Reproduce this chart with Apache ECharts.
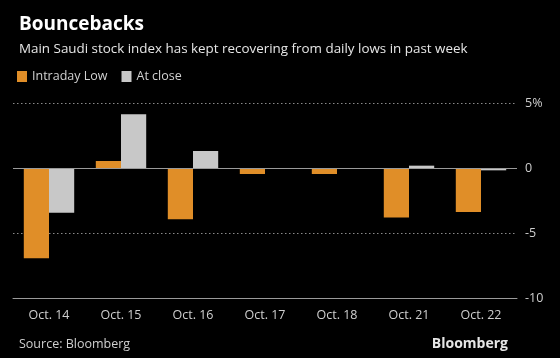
<!DOCTYPE html>
<html><head><meta charset="utf-8">
<script src="https://cdn.jsdelivr.net/npm/echarts@6/dist/echarts.min.js"></script>
<style>html,body{margin:0;padding:0;background:#000;}#c{width:560px;height:358px;}</style>
</head><body><div id="c"></div>
<script>
const categories = ['Oct. 14','Oct. 15','Oct. 16','Oct. 17','Oct. 18','Oct. 21','Oct. 22'];
const intradayLow = [-6.95, 0.54, -3.95, -0.46, -0.46, -3.8, -3.38];
const atClose = [-3.44, 4.13, 1.31, -0.05, -0.05, 0.18, -0.18];
const yTicks = [-10, -5, 0, 5];
const FONT = 'Open Sans';
const chart = echarts.init(document.getElementById('c'));
chart.setOption({
  backgroundColor: '#000',
  animation: false,
  textStyle: {fontFamily: FONT},
  title: [
    {text: 'Bouncebacks', left: 14, top: 10, textStyle: {color: '#fff', fontSize: 19, fontWeight: 'bold', fontFamily: FONT}},
    {text: 'Main Saudi stock index has kept recovering from daily lows in past week', left: 14, top: 38, textStyle: {color: '#e6e6e6', fontSize: 13.4, fontWeight: 'normal', fontFamily: FONT}},
    {text: 'Source: Bloomberg', left: 14, top: 333, textStyle: {color: '#cfcfcf', fontSize: 12.5, fontWeight: 'normal', fontFamily: FONT}},
    {text: 'Bloomberg', right: 47, top: 332, textStyle: {color: '#e6e6e6', fontSize: 14, fontWeight: 'bold', fontFamily: FONT}}
  ],
  legend: {
    left: 12, top: 65, itemWidth: 10, itemHeight: 11, itemGap: 14,
    icon: 'rect',
    textStyle: {color: '#d0d0d0', fontSize: 12.5, fontFamily: FONT},
    data: ['Intraday Low', 'At close']
  },
  grid: {left: 13, right: 43, top: 103, bottom: 60},
  xAxis: {
    type: 'category', data: categories,
    axisLine: {onZero: false, lineStyle: {color: '#9a9a9a', width: 1}},
    axisTick: {alignWithLabel: true, length: 5, lineStyle: {color: '#9a9a9a'}},
    axisLabel: {color: '#cfcfcf', fontSize: 12.5, margin: 11, fontFamily: FONT}
  },
  yAxis: {
    type: 'value', position: 'right', min: -10, max: 5, interval: 5,
    axisLine: {show: false}, axisTick: {show: false},
    axisLabel: {color: '#cfcfcf', fontSize: 12.5, margin: 8, fontFamily: FONT,
      formatter: v => (yTicks.includes(v) ? (v === 5 ? v + '%' : String(v)) : '')},
    splitLine: {show: true, lineStyle: {color: '#8a8a8a', type: [1.5, 2.5], width: 1}}
  },
  series: [
    {name: 'Intraday Low', type: 'bar', data: intradayLow, barGap: '0%', barCategoryGap: '30%',
      itemStyle: {color: '#e08e28'},
      markLine: {silent: true, symbol: 'none', label: {show: false},
        lineStyle: {color: '#9a9a9a', type: 'solid', width: 1}, data: [{yAxis: 0}]}},
    {name: 'At close', type: 'bar', data: atClose,
      itemStyle: {color: '#c8c8c8'}}
  ]
});
</script></body></html>
